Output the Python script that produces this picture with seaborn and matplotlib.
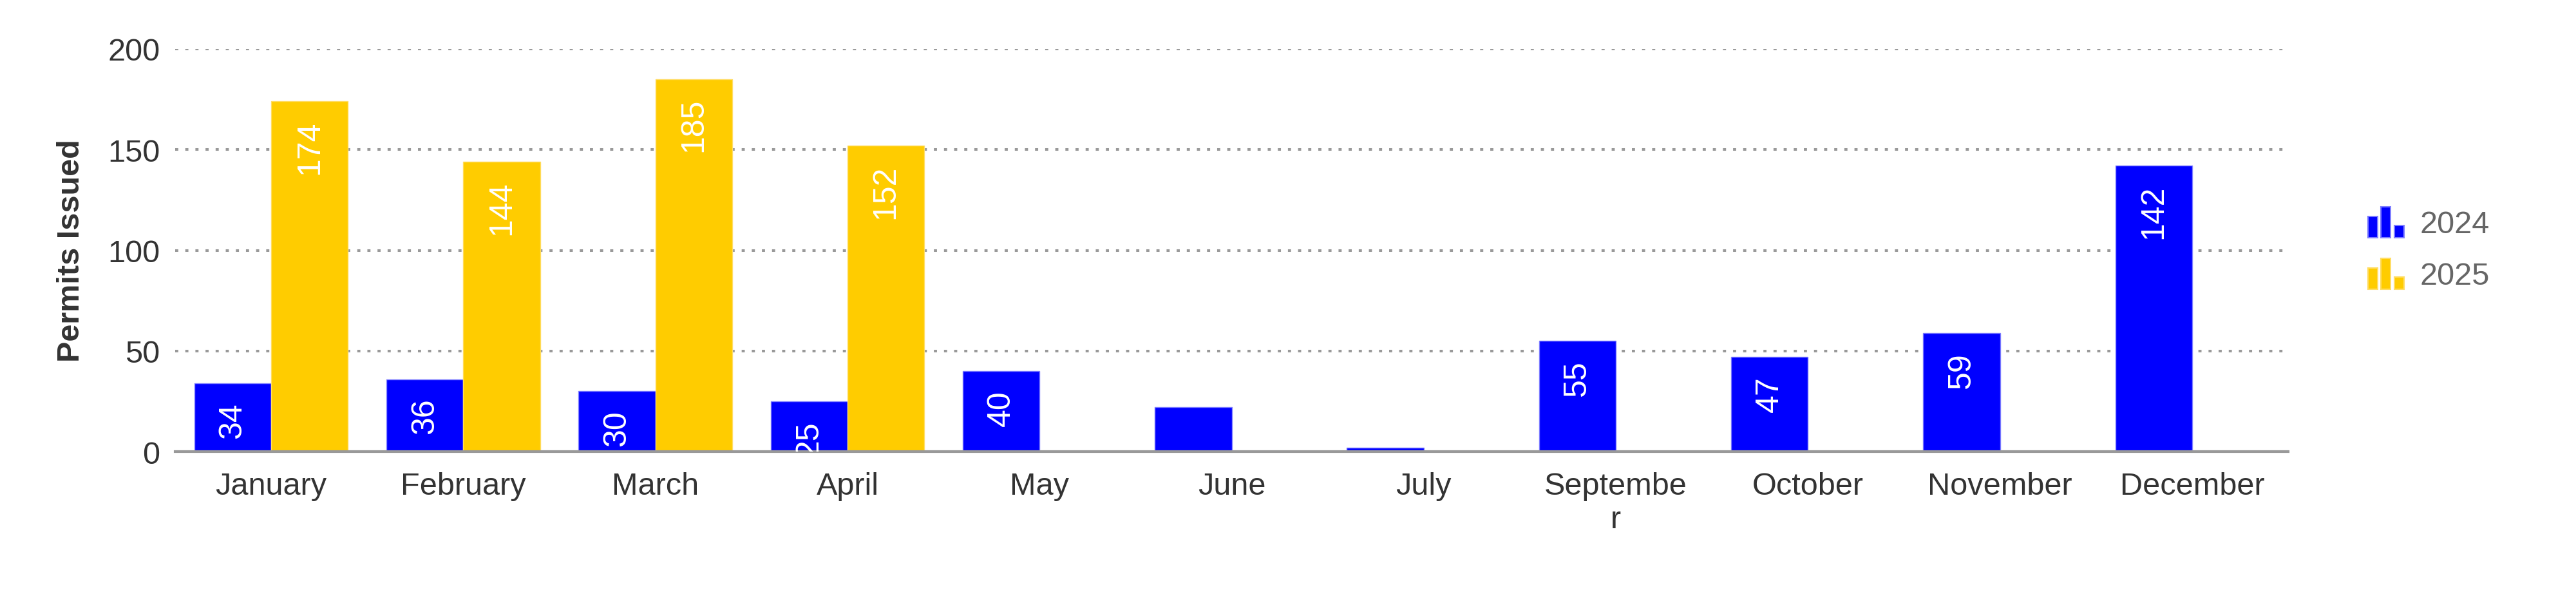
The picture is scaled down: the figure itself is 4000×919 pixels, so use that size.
import numpy as np
import pandas as pd
import seaborn as sns
import matplotlib.pyplot as plt
from matplotlib.patches import Patch, Rectangle
from matplotlib.legend_handler import HandlerBase

# data
months = ['January', 'February', 'March', 'April', 'May', 'June', 'July',
          'September', 'October', 'November', 'December']
tick_labels = ['January', 'February', 'March', 'April', 'May', 'June', 'July',
               'Septembe\nr', 'October', 'November', 'December']
permits_2024 = [34, 36, 30, 25, 40, 22, 2, 55, 47, 59, 142]
permits_2025 = [174, 144, 185, 152, None, None, None, None, None, None, None]
years = ['2024', '2025']
colors = {'2024': '#0000ff', '2025': '#ffcc00'}
edges = {'2024': '#7f7fff', '2025': '#ffdd66'}

rows = []
for m, a, b in zip(months, permits_2024, permits_2025):
    rows.append((m, '2024', a))
    rows.append((m, '2025', np.nan if b is None else b))
df = pd.DataFrame(rows, columns=['month', 'year', 'permits'])

sns.set_style('white')
plt.rcParams['font.family'] = ['Liberation Sans', 'DejaVu Sans']

fig = plt.figure(figsize=(40, 9.2), dpi=100)
ax = fig.add_axes([272/4000, 1-702/920, (3553-272)/4000, (702-77)/920])

sns.barplot(data=df, x='month', y='permits', hue='year', order=months,
            hue_order=years, palette=colors, width=0.8, saturation=1,
            errorbar=None, legend=False, ax=ax)

# value labels inside the top of each bar, too-short bars get none
for yr, cont in zip(years, ax.containers):
    for bar in cont:
        bar.set_edgecolor(edges[yr])
        bar.set_linewidth(1.0)
        h = bar.get_height()
        if np.isnan(h) or h < 25:
            continue
        ax.annotate(f'{int(h)}', (bar.get_x() + bar.get_width()/2, h),
                    xytext=(0, -21), textcoords='offset points',
                    rotation=90, ha='center', va='top', color='white',
                    fontsize=36, clip_on=True)

ax.set_ylim(0, 200)
ax.set_yticks([0, 50, 100, 150, 200])
ax.set_xticks(range(len(months)))
ax.set_xticklabels(tick_labels)
ax.tick_params(axis='x', length=0, pad=22, labelsize=35, labelcolor='#333333')
ax.tick_params(axis='y', length=0, pad=17, labelsize=35, labelcolor='#333333')
ax.set_xlabel('')
ax.set_ylabel('Permits Issued', fontsize=35, fontweight='bold', color='#333333')
ax.yaxis.set_label_coords((133-272)/3281, 0.5)

ax.yaxis.grid(True, color='#999999', linestyle=(0, (1.2, 2.7)), linewidth=2.9)
ax.set_axisbelow(True)
for s in ['left', 'right', 'top']:
    ax.spines[s].set_visible(False)
ax.spines['bottom'].set_color('#999999')
ax.spines['bottom'].set_linewidth(3)


class BarsHandler(HandlerBase):
    def create_artists(self, legend, orig_handle, xdescent, ydescent,
                       width, height, fontsize, trans):
        fc = orig_handle.get_facecolor()
        ec = orig_handle.get_edgecolor()
        bw = width * 0.27
        gap = (width - 3 * bw) / 2
        out = []
        for i, frac in enumerate([0.68, 1.0, 0.4]):
            r = Rectangle((-xdescent + i * (bw + gap), -ydescent), bw, height * frac,
                          facecolor=fc, edgecolor=ec, linewidth=1.5, transform=trans)
            out.append(r)
        return out


handles = [Patch(facecolor=colors[y], edgecolor=edges[y]) for y in years]
fig.legend(handles=handles, labels=years, handler_map={Patch: BarsHandler()},
           loc='center left', bbox_to_anchor=(3677/4000, 1-387/920),
           frameon=False, fontsize=35, labelcolor='#666666',
           handlelength=1.15, handleheight=1.17, handletextpad=0.5,
           labelspacing=0.6, borderpad=0, borderaxespad=0)

plt.savefig('out.png', dpi=100)
